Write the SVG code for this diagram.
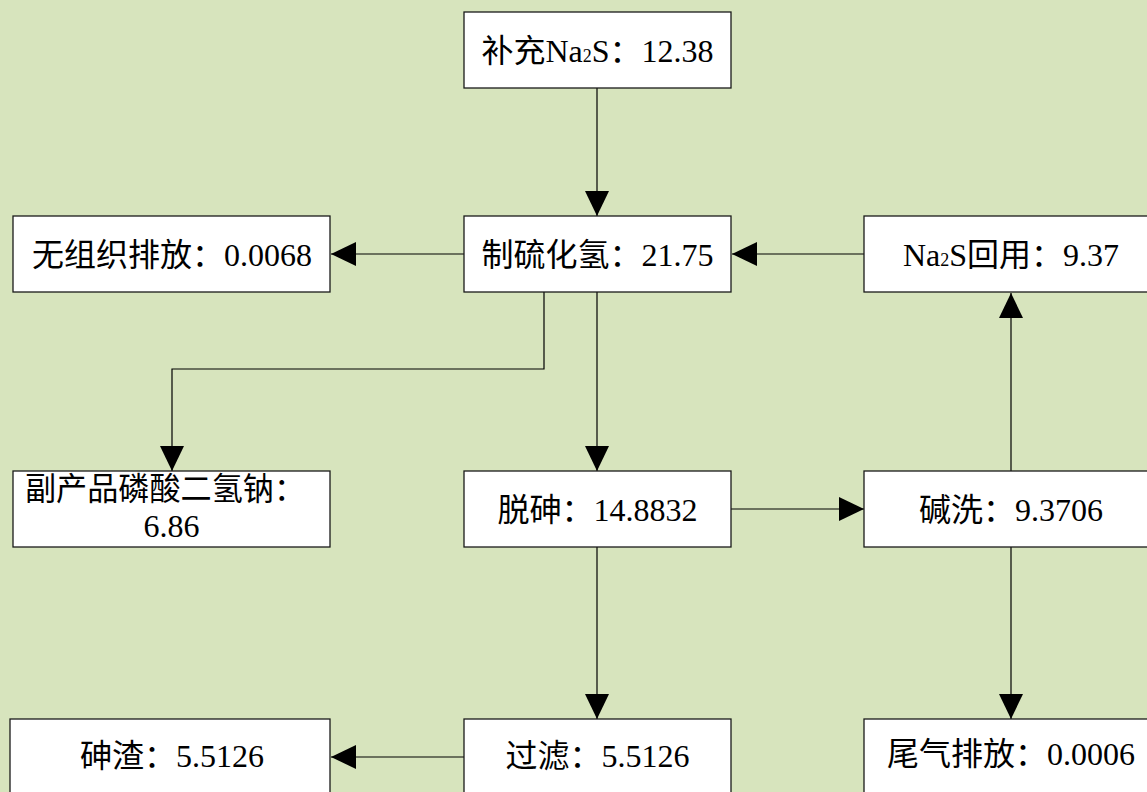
<svg xmlns="http://www.w3.org/2000/svg" width="1147" height="792" viewBox="0 0 1147 792">
  <style>
    .box { fill: #ffffff; stroke: #1a1a1a; stroke-width: 1.3; }
    .lbl { font-family: "Liberation Serif", "Noto Sans CJK SC", serif; font-size: 32px; fill: #000000; text-anchor: middle; }
    .sub { font-size: 18px; }
    .wire { fill: none; stroke: #000000; stroke-width: 1.2; }
  </style>
  <defs>
    <marker id="arrow" viewBox="0 0 25 24" refX="25" refY="12" markerWidth="25" markerHeight="24" markerUnits="userSpaceOnUse" orient="auto">
      <path d="M0,0 L25,12 L0,24 Z" fill="#000000"/>
    </marker>
  </defs>

  <!-- background -->
  <rect x="0" y="0" width="1147" height="792" fill="#D7E4BD"/>

  <!-- connectors -->
  <g id="connectors">
    <path class="wire" d="M597,88 L597,216" marker-end="url(#arrow)"/>
    <path class="wire" d="M464,254 L331,254" marker-end="url(#arrow)"/>
    <path class="wire" d="M864,254 L732,254" marker-end="url(#arrow)"/>
    <path class="wire" d="M544,292 L544,369 L172,369 L172,471" marker-end="url(#arrow)"/>
    <path class="wire" d="M597,292 L597,471" marker-end="url(#arrow)"/>
    <path class="wire" d="M731,509 L864,509" marker-end="url(#arrow)"/>
    <path class="wire" d="M1011,471 L1011,293" marker-end="url(#arrow)"/>
    <path class="wire" d="M597,547 L597,719" marker-end="url(#arrow)"/>
    <path class="wire" d="M1011,547 L1011,719" marker-end="url(#arrow)"/>
    <path class="wire" d="M464,757 L331,757" marker-end="url(#arrow)"/>
  </g>

  <!-- nodes -->
  <g id="supply">
    <rect class="box" x="464" y="12" width="267" height="76"/>
    <text class="lbl" x="597.5" y="62">补充Na<tspan class="sub">2</tspan>S：12.38</text>
  </g>
  <g id="h2s">
    <rect class="box" x="464" y="216" width="267" height="76"/>
    <text class="lbl" x="597.5" y="266">制硫化氢：21.75</text>
  </g>
  <g id="fugitive">
    <rect class="box" x="13" y="216" width="317" height="76"/>
    <text class="lbl" x="172" y="266">无组织排放：0.0068</text>
  </g>
  <g id="recycle">
    <rect class="box" x="864" y="216" width="300" height="76"/>
    <text class="lbl" x="1011" y="266">Na<tspan class="sub">2</tspan>S回用：9.37</text>
  </g>
  <g id="byproduct">
    <rect class="box" x="13" y="471" width="317" height="76"/>
    <text class="lbl" x="25" y="500" style="text-anchor:start" textLength="280" lengthAdjust="spacingAndGlyphs">副产品磷酸二氢钠：</text>
    <text class="lbl" x="171.5" y="537">6.86</text>
  </g>
  <g id="dearsenic">
    <rect class="box" x="464" y="471" width="267" height="76"/>
    <text class="lbl" x="597.5" y="521">脱砷：14.8832</text>
  </g>
  <g id="alkaliwash">
    <rect class="box" x="864" y="471" width="300" height="76"/>
    <text class="lbl" x="1011" y="521">碱洗：9.3706</text>
  </g>
  <g id="residue">
    <rect class="box" x="10" y="719" width="320" height="90"/>
    <text class="lbl" x="172" y="767">砷渣：5.5126</text>
  </g>
  <g id="filter">
    <rect class="box" x="464" y="719" width="267" height="90"/>
    <text class="lbl" x="597.5" y="767">过滤：5.5126</text>
  </g>
  <g id="tailgas">
    <rect class="box" x="864" y="719" width="300" height="90"/>
    <text class="lbl" x="1011" y="765">尾气排放：0.0006</text>
  </g>
</svg>
